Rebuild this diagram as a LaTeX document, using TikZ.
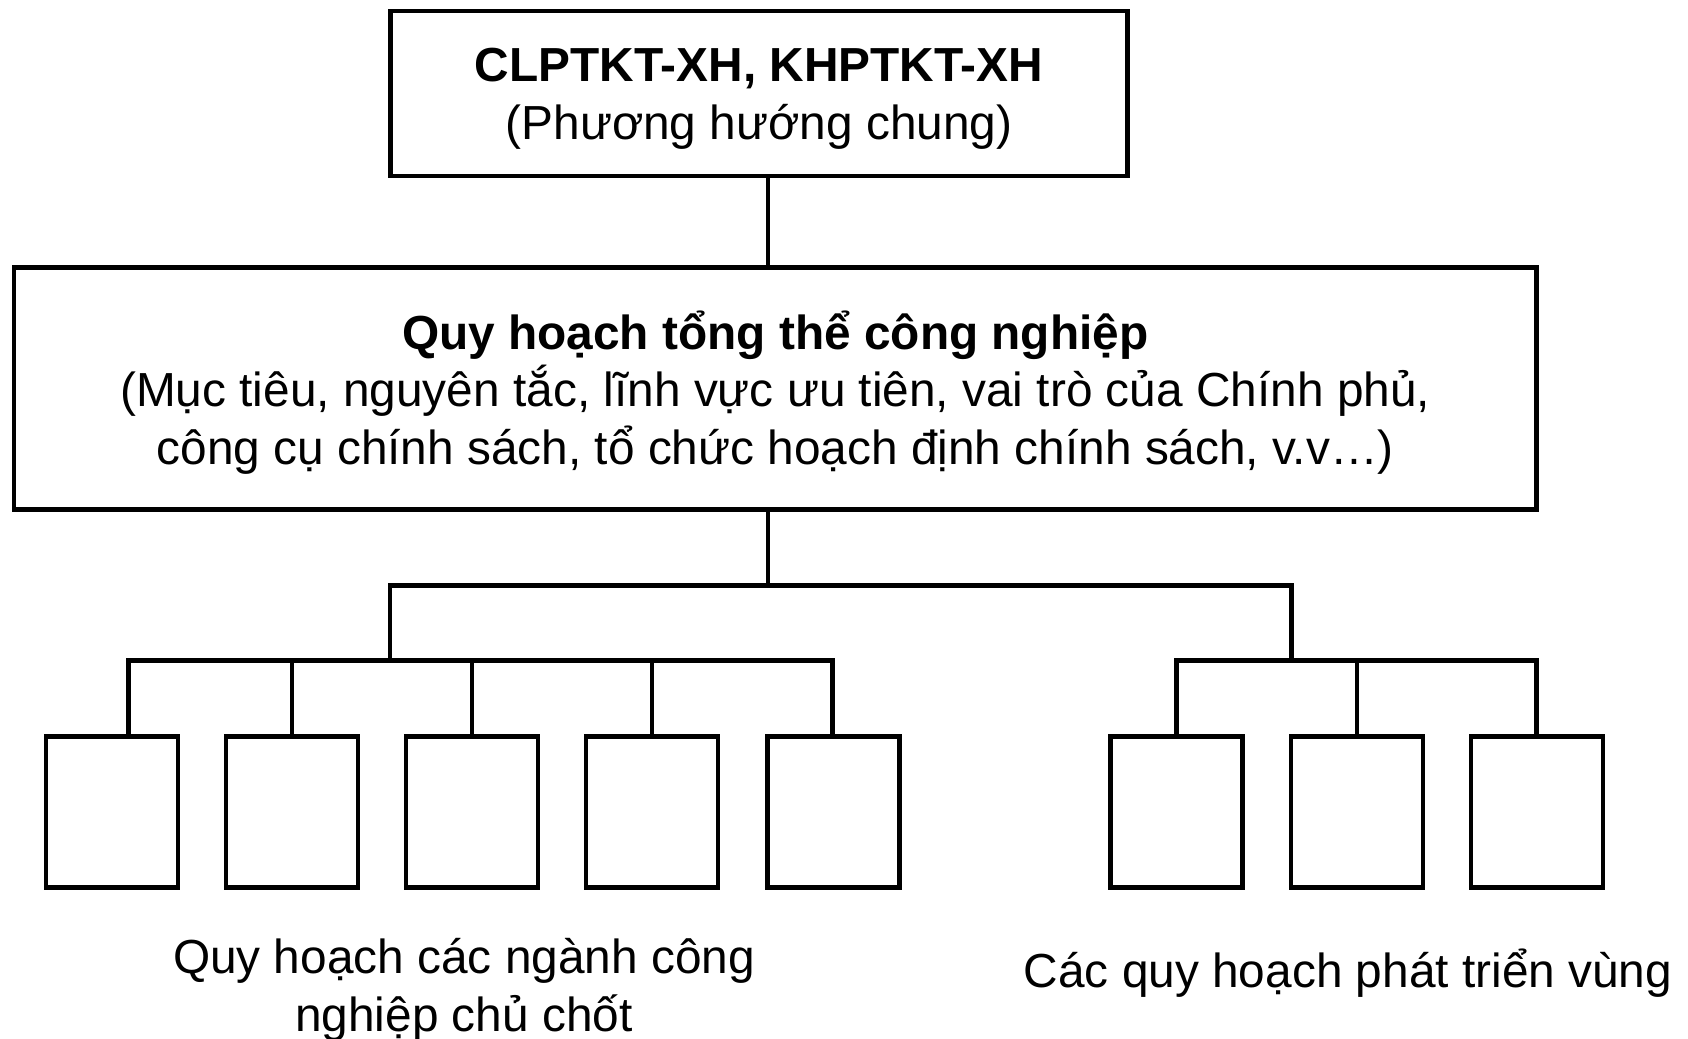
\documentclass[tikz,border=0pt]{standalone}
\usepackage{fontspec}
\setmainfont{Liberation Sans}
\begin{document}
\begin{tikzpicture}[x=1pt,y=-1pt,
  txt/.style={font=\fontsize{47.8}{57.6}\selectfont, align=center, inner sep=0pt},
  box/.style={draw, line width=4.8pt, inner sep=0pt},
  leaf/.style={draw, line width=4.8pt, minimum width=132pt, minimum height=151pt, inner sep=0pt},
  conn/.style={line width=4.8pt}]
\useasboundingbox (0,0) rectangle (1688,1038);

% upper levels: frames and their texts
\node[box, minimum width=737.5pt, minimum height=165pt] (top) at (759,93.5) {};
\node[txt] (topT) at (759,99)
  {\textbf{CLPTKT-XH, KHPTKT-XH}\\(Phương hướng chung)};
\node[box, minimum width=1522.5pt, minimum height=242pt] (mid) at (775.25,388.5) {};
\node[txt] (midT) at (775.25,392.5)
  {\textbf{Quy hoạch tổng thể công nghiệp}\\(Mục tiêu, nguyên tắc, lĩnh vực ưu tiên, vai trò của Chính phủ,\\công cụ chính sách, tổ chức hoạch định chính sách, v.v…)};

% leaf boxes
\foreach \n/\x in {1/112,2/292,3/472,4/652,5/833.25,6/1176.25,7/1357,8/1537}
  \node[leaf] (b\n) at (\x,812) {};

% junction points
\coordinate (j0) at (768,585.5);
\coordinate (m1) at (390,585.5);
\coordinate (m2) at (1291.5,585.5);
\coordinate (k1) at (128.5,660.5);
\coordinate (k5) at (832.5,660.5);
\coordinate (r1) at (1176.5,660.5);
\coordinate (r3) at (1536.5,660.5);

% connectors
\draw[conn] (top.south -| j0) -- (mid.north -| j0);
\draw[conn] (mid.south -| j0) -- (j0);
\draw[conn] (m1 |- k1) -- (m1) -- (m2) -- (m2 |- r1);
\draw[conn] (b1.north -| k1) -- (k1) -- (k5) -- (b5.north -| k5);
\foreach \n in {2,3,4} \draw[conn] (b\n.north) -- (b\n.north |- k1);
\draw[conn] (b6.north -| r1) -- (r1) -- (r3) -- (b8.north -| r3);
\draw[conn] (b7.north) -- (b7.north |- r1);

% group labels
\node[txt] (lblL) at (464,990) {Quy hoạch các ngành công\\nghiệp chủ chốt};
\node[txt] (lblR) at (1348,973) {Các quy hoạch phát triển vùng};
\end{tikzpicture}
\end{document}
